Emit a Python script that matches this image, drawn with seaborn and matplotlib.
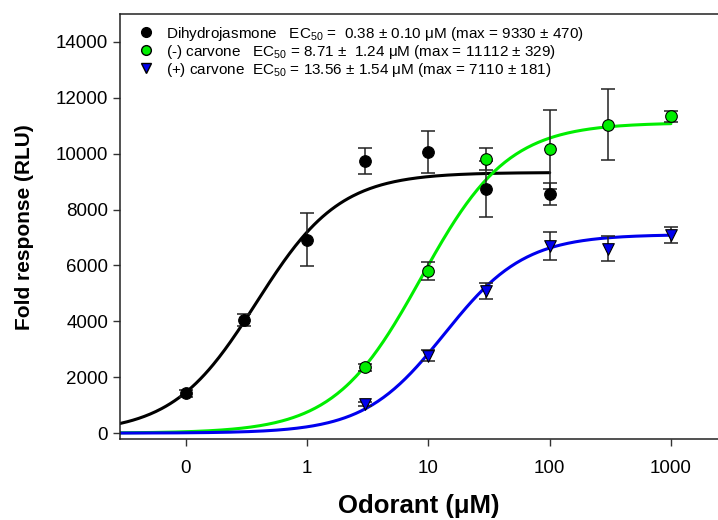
import numpy as np
import pandas as pd
import matplotlib
matplotlib.use("Agg")
import matplotlib.pyplot as plt
import seaborn as sns
from matplotlib.lines import Line2D

sns.set_style("ticks")
plt.rcParams['font.family'] = ['Liberation Sans', 'DejaVu Sans']
plt.rcParams['mathtext.fontset'] = 'custom'
plt.rcParams['mathtext.rm'] = 'Liberation Sans'
plt.rcParams['mathtext.it'] = 'Liberation Sans:italic'
plt.rcParams['text.color'] = 'black'
plt.rcParams['axes.labelcolor'] = 'black'
plt.rcParams['xtick.color'] = 'black'
plt.rcParams['ytick.color'] = 'black'

# measured points (concentration in uM, mean response, error)
dhj_conc = [0.1, 0.3, 1, 3, 10, 30, 100]
dhj_resp = [1420, 4040, 6925, 9735, 10057, 8748, 8570]
dhj_err = [110, 220, 955, 465, 740, 1000, 390]

minus_conc = [3, 10, 30, 100, 300, 1000]
minus_resp = [2350, 5792, 9807, 10154, 11037, 11334]
minus_err = [110, 320, 390, 1400, 1270, 200]

plus_conc = [3, 10, 30, 100, 300, 1000]
plus_resp = [1037, 2778, 5088, 6697, 6603, 7079]
plus_err = [80, 180, 270, 500, 450, 290]

# fit parameters (EC50, max, Hill slope) and fitted range
names = ["Dihydrojasmone", "(-) carvone", "(+) carvone"]
ec50 = [0.38, 8.71, 13.56]
top = [9330, 11112, 7110]
hill = [1.26, 1.21, 1.31]
fit_end = [100, 1000, 1000]

labels = [
    r"Dihydrojasmone   EC$_{50}$ =  0.38 ± 0.10 μM (max = 9330 ± 470)",
    r"(-) carvone   EC$_{50}$ = 8.71 ±  1.24 μM (max = 11112 ± 329)",
    r"(+) carvone  EC$_{50}$ = 13.56 ± 1.54 μM (max = 7110 ± 181)",
]
colors = ["black", "#00ee00", "#0000ee"]
markers = ["o", "o", "v"]

xmin, xmax = 0.0285, 2445

fig = plt.figure(figsize=(7.18, 5.2), dpi=100)
ax = fig.add_axes([0.167, 0.155, 0.833, 0.818])

# fitted curves
for i in range(3):
    xs = np.logspace(np.log10(xmin), np.log10(fit_end[i]), 300)
    ys = top[i] / (1 + (ec50[i] / xs) ** hill[i])
    sns.lineplot(x=xs, y=ys, ax=ax, color=colors[i], lw=2.2, zorder=2)

# data points with error bars
sets = [(dhj_conc, dhj_resp, dhj_err), (minus_conc, minus_resp, minus_err),
        (plus_conc, plus_resp, plus_err)]
for i, (c, r, e) in enumerate(sets):
    ax.errorbar(c, r, yerr=e, fmt="none", ecolor="#222222", elinewidth=1.1,
                capsize=5, capthick=1.1, zorder=3)
    df = pd.DataFrame({"conc": c, "resp": r})
    sns.scatterplot(data=df, x="conc", y="resp", ax=ax, color=colors[i],
                    marker=markers[i], s=70, edgecolor="black",
                    linewidth=0.8, zorder=4)

ax.set_xscale("log")
ax.set_xlim(xmin, xmax)
ax.set_ylim(-225, 15000)
ax.set_xticks([0.1, 1, 10, 100, 1000])
ax.set_xticklabels(["0", "1", "10", "100", "1000"])
ax.xaxis.set_minor_locator(matplotlib.ticker.NullLocator())
ax.set_yticks(range(0, 14001, 2000))
ax.tick_params(labelsize=13.5, length=5, width=1, color="#333333")
ax.tick_params(axis="x", pad=10)
for s in ["left", "bottom", "top"]:
    ax.spines[s].set_linewidth(1.1)
    ax.spines[s].set_color("#222222")
ax.spines["right"].set_visible(False)

ax.set_xlabel("Odorant (μM)", fontsize=18.5, fontweight="bold", labelpad=12)
ax.set_ylabel("Fold response (RLU)", fontsize=15, fontweight="bold", labelpad=16)

handles = [Line2D([], [], ls="none", marker=markers[i], color=colors[i],
                  markeredgecolor="black", markersize=7) for i in range(3)]
ax.legend(handles, labels, loc="upper left", frameon=False, fontsize=11,
          handletextpad=0.3, labelspacing=0.0, borderaxespad=0.3,
          bbox_to_anchor=(0.0, 1.0))

fig.savefig("out.png", dpi=100)
